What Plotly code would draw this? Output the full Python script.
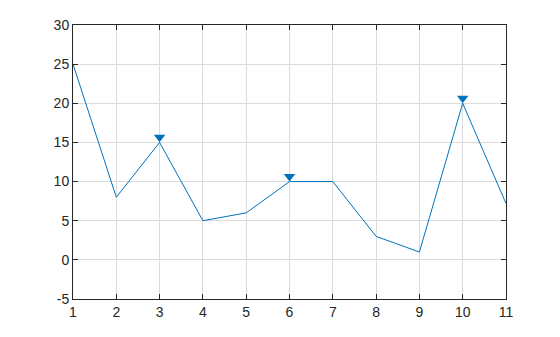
import plotly.graph_objects as go

x = [1, 2, 3, 4, 5, 6, 7, 8, 9, 10, 11]
y = [25, 8, 15, 5, 6, 10, 10, 3, 1, 20, 7.2]
peak_x = [3, 6, 10]
peak_y = [15, 10, 20]
marker_offset = 0.65
y_ticks = [-5, 0, 5, 10, 15, 20, 25, 30]

color = "#0072BD"

fig = go.Figure()
fig.add_trace(go.Scatter(x=x, y=y, mode="lines", line=dict(color=color, width=1), showlegend=False))
fig.add_trace(go.Scatter(x=peak_x, y=[v + marker_offset for v in peak_y], mode="markers",
                         marker=dict(symbol="triangle-down", size=10, color=color), showlegend=False))

axis_common = dict(
    showgrid=True, gridcolor="#DCDCDC", gridwidth=1,
    showline=True, linecolor="#262626", linewidth=1, mirror="ticks",
    ticks="inside", ticklen=5, tickcolor="#262626",
    tickfont=dict(family="Liberation Sans, Arial, sans-serif", size=14, color="#262626"),
    zeroline=False,
)

fig.update_xaxes(range=[1, 11], tickmode="array", tickvals=x, ticktext=[str(v) for v in x], **axis_common)
fig.update_yaxes(range=[-5, 30], tickmode="array", tickvals=y_ticks,
                 ticktext=[str(v) for v in y_ticks], **axis_common)

fig.update_layout(
    width=560, height=337,
    margin=dict(l=73, r=54, t=25, b=38),
    paper_bgcolor="white", plot_bgcolor="white",
)

fig.write_html("out.html")
